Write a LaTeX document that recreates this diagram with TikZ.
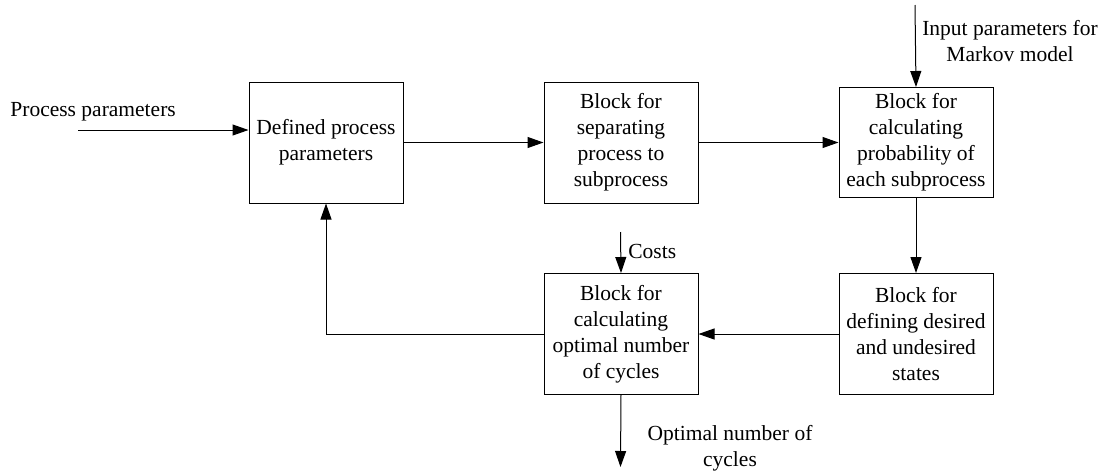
\documentclass[tikz,border=0pt]{standalone}
\usepackage{fontspec}
\setmainfont{Liberation Serif}
\usetikzlibrary{arrows.meta, positioning}
\tikzstyle{block} = [draw, rectangle, minimum width=77pt, minimum height=60.5pt, align=center, inner sep=1.5pt, line width=0.5pt]
\tikzstyle{lbl} = [inner sep=0pt, align=center]
\tikzstyle{arrow} = [line width=0.5pt, -{Triangle[length=8pt,width=5.5pt]}]

\begin{document}
\begin{tikzpicture}[x=0.5pt, y=-0.5pt, font=\fontsize{10.75pt}{13pt}\selectfont]
    \useasboundingbox (0,0) rectangle (1105,472);
    \node [block] (defined) at (326,142.5) {Defined process\\parameters};
    \node [block, right=70pt of defined] (separate) {Block for\\separating\\process to\\subprocess};
    \node [block, right=70pt of separate, minimum height=55pt] (prob) {Block for\\calculating\\probability of\\each subprocess};
    \node [block, below=37.5pt of prob] (states) {Block for\\defining desired\\and undesired\\states};
    \node [block] (optimal) at (separate |- states) {Block for\\calculating\\optimal number\\of cycles};
    % inputs and outputs
    \coordinate (procin) at (78,130);
    \coordinate (markovin) at (915,5);
    \coordinate (costin) at (620.5,232);
    \coordinate (cyclesout) at (620.5,467);
    \node [lbl, anchor=base west] (proclbl) at (10,116) {Process parameters};
    \node [lbl, anchor=north] (markovlbl) at (1010,20) {Input parameters for\\Markov model};
    \node [lbl, anchor=base west] (costlbl) at (628,258) {Costs};
    \node [lbl, anchor=north] (cycleslbl) at (730,425) {Optimal number of\\cycles};
    \draw [arrow] (procin) -- (procin -| defined.west);
    \draw [arrow] (defined) -- (separate);
    \draw [arrow] (separate) -- (prob);
    \draw [arrow] (markovin) -- (prob.north);
    \draw [arrow] (prob) -- (states);
    \draw [arrow] (states) -- (optimal);
    \draw [arrow] (optimal.west) -| (defined.south);
    \draw [arrow] (costin) -- (optimal.north);
    \draw [arrow] (optimal.south) -- (cyclesout);
\end{tikzpicture}
\end{document}
